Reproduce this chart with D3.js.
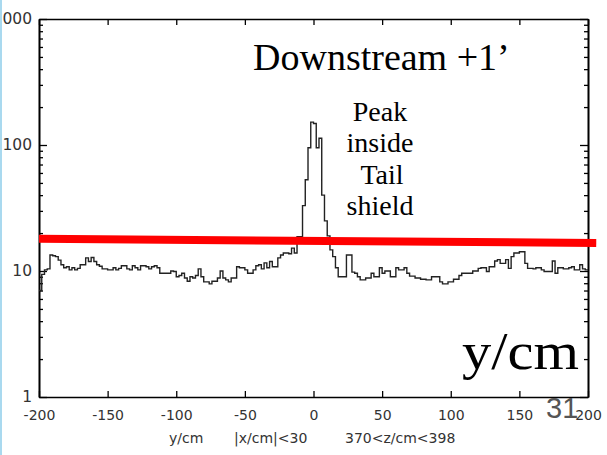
<!DOCTYPE html>
<html><head><meta charset="utf-8">
<script src="https://cdn.jsdelivr.net/npm/d3@7"></script>
<style>html,body{margin:0;padding:0;background:#fff;overflow:hidden}</style>
</head><body><svg id="c" width="607" height="455"></svg>
<script>
// ---- data ----
const binStart = -200;      // cm
const binWidth = 2;         // cm
const counts = [
  7.0, 9.4, 10.2, 10.4, 13.4, 13.2, 13.0, 12.2, 11.2, 10.6,
  10.8, 10.2, 10.6, 10.2, 10.5, 11.2, 11.2, 12.7, 11.9, 12.8,
  11.9, 11.2, 10.9, 10.4, 10.4, 10.2, 10.2, 10.6, 10.2, 10.5,
  11.0, 11.0, 10.4, 10.2, 11.0, 10.6, 10.2, 11.0, 11.0, 10.8,
  10.4, 10.8, 11.0, 10.6, 9.6, 9.6, 9.6, 9.6, 10.0, 9.9,
  9.0, 9.2, 9.6, 8.8, 8.3, 9.0, 8.8, 9.2, 10.4, 9.0,
  8.2, 8.2, 7.9, 8.3, 8.3, 8.8, 10.0, 8.8, 8.5, 8.2,
  8.8, 8.8, 10.8, 10.6, 10.6, 10.2, 9.6, 9.6, 10.2, 11.0,
  11.2, 10.4, 11.6, 10.6, 11.9, 10.8, 10.8, 12.7, 13.4, 13.9,
  13.9, 13.7, 15.2, 13.9, 18.7, 18.7, 33, 53, 95, 152,
  148, 95, 113, 40, 25, 19, 14.7, 13, 10.6, 9.0,
  9.0, 9.0, 13.4, 13.4, 9.8, 9.6, 9.0, 8.5, 8.5, 8.8,
  8.8, 9.6, 9.0, 9.0, 10.6, 9.6, 10.0, 10.0, 9.0, 9.0,
  10.6, 10.2, 10.2, 10.6, 9.6, 9.1, 9.1, 8.8, 8.8, 8.6,
  8.6, 8.5, 8.5, 9.0, 9.0, 9.0, 8.2, 7.9, 7.9, 8.2,
  8.2, 8.6, 8.6, 9.2, 9.6, 9.6, 9.6, 9.6, 10.0, 10.0,
  10.5, 10.6, 10.6, 9.9, 10.8, 10.8, 12.0, 12.3, 11.5, 11.5,
  12.3, 10.5, 13.0, 13.9, 13.9, 14.2, 14.2, 11.5, 10.5, 10.5,
  10.4, 10.6, 10.6, 10.2, 9.9, 9.9, 9.9, 12.0, 9.6, 10.6,
  10.6, 10.4, 10.4, 10.6, 10.8, 10.2, 10.2, 11.2, 10.4, 10.2
];
const redLineX = [-200, 206];
const redLineY = [18.0, 16.7];
const xTicks = [-200, -150, -100, -50, 0, 50, 100, 150, 200];
const yTicks = [1, 10, 100, 1000];
const yMinor = [2,3,4,5,6,7,8,9,20,30,40,50,60,70,80,90,200,300,400,500,600,700,800,900];
const titleText = "Downstream +1\u2019";
const noteLines = ["Peak", "inside", "Tail", "shield"];
const axisText = "y/cm";
const pageNum = "31";
const footer = ["y/cm", "|x/cm|<30", "370<z/cm<398"];

// ---- drawing ----
const svg = d3.select("#c");
const L = 39, R = 588, T = 19, B = 397;
const x = d3.scaleLinear().domain([-200, 200]).range([L, R]);
const y = d3.scaleLog().domain([1, 1000]).range([B, T]);

function styleAxis(g, fs){
  g.selectAll("path.domain").attr("stroke","#000").attr("stroke-width",1.6);
  g.selectAll(".tick line").attr("stroke","#000").attr("stroke-width",1.3);
  g.selectAll(".tick text").attr("fill","#333").attr("font-family","DejaVu Sans, sans-serif").attr("font-size",fs||14);
}
const fmt = d => String(d);
// bottom
svg.append("g").attr("transform",`translate(0,${B})`)
  .call(d3.axisBottom(x).tickValues(xTicks).tickFormat(fmt).tickSizeInner(-6).tickSizeOuter(0).tickPadding(13))
  .call(g => styleAxis(g, 14));
// top
svg.append("g").attr("transform",`translate(0,${T})`)
  .call(d3.axisTop(x).tickValues(xTicks).tickFormat("").tickSizeInner(-6).tickSizeOuter(0))
  .call(g => styleAxis(g));
// left
svg.append("g").attr("transform",`translate(${L},0)`)
  .call(d3.axisLeft(y).tickValues(yTicks).tickFormat(fmt).tickSizeInner(-8).tickSizeOuter(0).tickPadding(7))
  .call(g => styleAxis(g, 15.5));
svg.append("g").attr("transform",`translate(${L},0)`)
  .call(d3.axisLeft(y).tickValues(yMinor).tickFormat("").tickSizeInner(-4).tickSizeOuter(0))
  .call(g => styleAxis(g));
// right
svg.append("g").attr("transform",`translate(${R},0)`)
  .call(d3.axisRight(y).tickValues(yTicks).tickFormat("").tickSizeInner(-8).tickSizeOuter(0))
  .call(g => styleAxis(g));
svg.append("g").attr("transform",`translate(${R},0)`)
  .call(d3.axisRight(y).tickValues(yMinor).tickFormat("").tickSizeInner(-4).tickSizeOuter(0))
  .call(g => styleAxis(g));

// histogram outline
const pts = [];
counts.forEach((c, i) => {
  const x0 = binStart + i * binWidth;
  pts.push([x0, c], [x0 + binWidth, c]);
});
svg.append("path")
  .attr("d", d3.line().x(d => x(d[0])).y(d => y(d[1]))(pts))
  .attr("fill","none").attr("stroke","#222").attr("stroke-width",1.4);

// red line
svg.append("path")
  .attr("d", d3.line().x(d => x(d[0])).y(d => y(d[1]))(redLineX.map((v,i)=>[v, redLineY[i]])))
  .attr("stroke","#ff0000").attr("stroke-width",8).attr("fill","none");

// left slide edge
svg.append("rect").attr("x",0).attr("y",0).attr("width",2).attr("height",455).attr("fill","#a9d9ef");

// texts
svg.append("text").attr("x",253).attr("y",70).attr("font-family","Liberation Serif, serif")
  .attr("font-size",38).attr("fill","#000").text(titleText);
const noteY = [121, 152, 184, 215];
noteLines.forEach((t,i)=>{
  svg.append("text").attr("x", t==="Tail"?382:380).attr("y",noteY[i]).attr("text-anchor","middle")
    .attr("font-family","Liberation Serif, serif").attr("font-size",28).attr("fill","#000").text(t);
});
svg.append("text").attr("x",462).attr("y",369).attr("font-family","Liberation Serif, serif")
  .attr("font-size",52).attr("textLength",117).attr("lengthAdjust","spacingAndGlyphs")
  .attr("fill","#000").text(axisText);
svg.append("text").attr("x",546).attr("y",418).attr("font-family","Liberation Sans, sans-serif")
  .attr("font-size",29).attr("fill","#555").text(pageNum);
const fx = [169, 234, 345];
footer.forEach((t,i)=>{
  svg.append("text").attr("x",fx[i]).attr("y",443).attr("font-family","DejaVu Sans, sans-serif")
    .attr("font-size",14).attr("fill","#333").text(t);
});
</script></body></html>
